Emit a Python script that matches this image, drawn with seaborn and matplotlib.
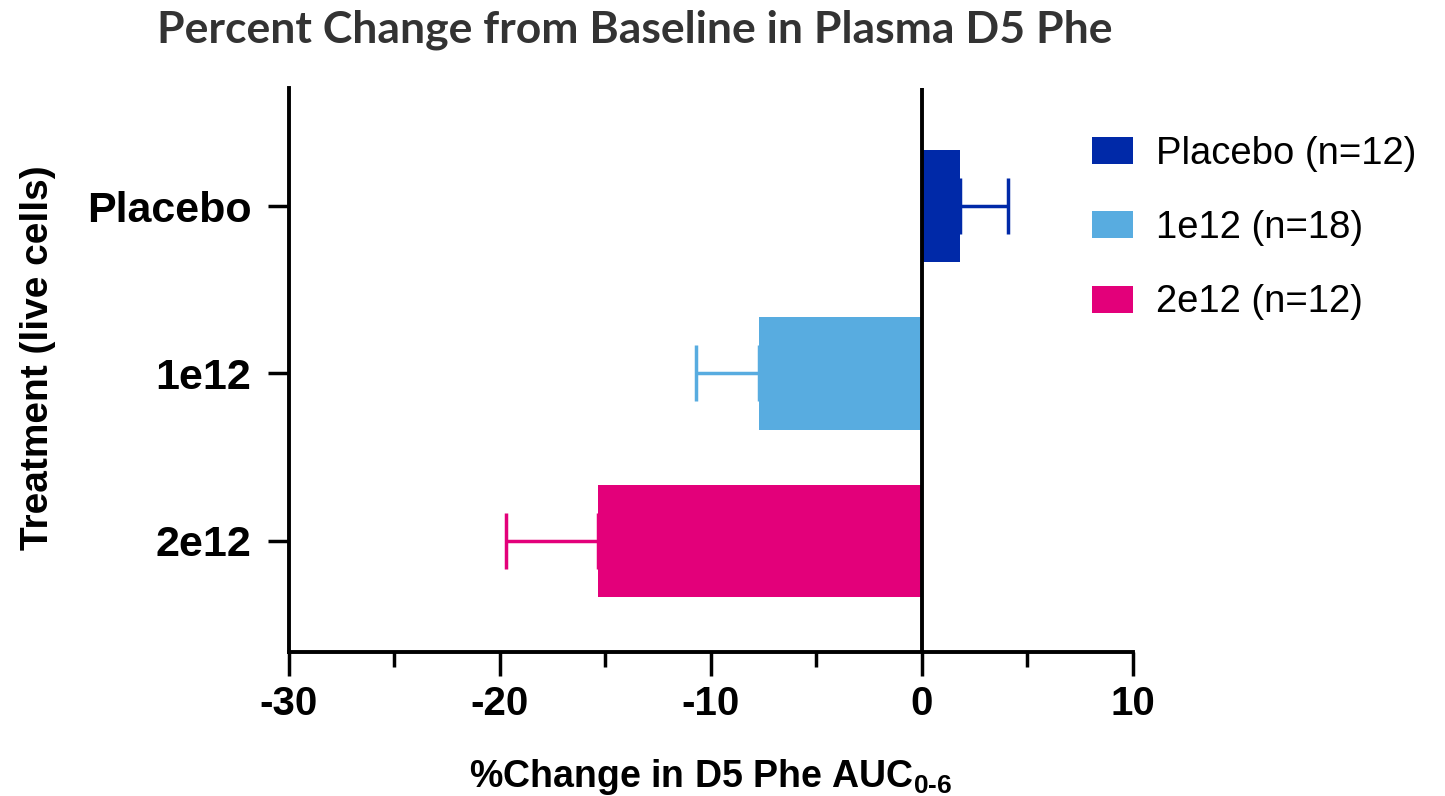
import matplotlib
matplotlib.use("Agg")
import matplotlib.pyplot as plt
import seaborn as sns
import pandas as pd
from matplotlib.patches import Patch
from matplotlib.ticker import MultipleLocator

# data
treatments = ["Placebo", "1e12", "2e12"]
legend_labels = ["Placebo (n=12)", "1e12 (n=18)", "2e12 (n=12)"]
pct_change = [1.8, -7.7, -15.35]
sem = [2.3, 3.0, 4.35]
colors = ["#0029A8", "#58ACE0", "#E3007A"]

df = pd.DataFrame({"Treatment": treatments, "Change": pct_change})

sns.set_theme(style="white")
plt.rcParams["font.family"] = ["Liberation Sans", "DejaVu Sans"]
plt.rcParams["axes.unicode_minus"] = False
plt.rcParams["mathtext.fontset"] = "custom"
plt.rcParams["mathtext.rm"] = "Liberation Sans:bold"
plt.rcParams["mathtext.bf"] = "Liberation Sans:bold"

fig = plt.figure(figsize=(14.45, 7.96), dpi=100)
ax = fig.add_axes([0.2, 0.181, 0.584, 0.708])

sns.barplot(data=df, x="Change", y="Treatment", hue="Treatment",
            palette=colors, orient="h", width=0.67, dodge=False,
            errorbar=None, legend=False, saturation=1, ax=ax)
for p in ax.patches:
    p.set_edgecolor("none")
    p.set_zorder(2)

# one-sided error bars pointing away from zero
for i, (v, e, c) in enumerate(zip(pct_change, sem, colors)):
    lo = e if v < 0 else 0
    hi = e if v >= 0 else 0
    ax.errorbar(v, i, xerr=[[lo], [hi]], fmt="none", ecolor=c,
                elinewidth=2.5, capsize=20, capthick=2.5, zorder=1)

ax.axvline(0, color="black", lw=2.8, zorder=5)

ax.set_xlim(-30, 10)
ax.set_ylim(2.665, -0.705)
ax.xaxis.set_major_locator(MultipleLocator(10))
ax.xaxis.set_minor_locator(MultipleLocator(5))

sns.despine(ax=ax)
for s in ["left", "bottom"]:
    ax.spines[s].set_color("black")
    ax.spines[s].set_linewidth(2.8)

ax.tick_params(axis="x", which="major", direction="out", length=17, width=2.5,
               color="black", labelsize=29, pad=7, bottom=True)
ax.tick_params(axis="x", which="minor", direction="out", length=11, width=2.5,
               color="black", bottom=True)
ax.tick_params(axis="y", direction="out", length=15, width=2.5,
               color="black", labelsize=31, pad=12, left=True)
for lab in ax.get_xticklabels() + ax.get_yticklabels():
    lab.set_fontweight("bold")
    lab.set_color("black")

ax.set_xlabel(r"%Change in D5 Phe AUC$_{\mathbf{0\text{-}6}}$", fontsize=27,
              fontweight="bold", color="black", labelpad=24)
ax.set_ylabel("")
fig.text(0.026, 0.551, "Treatment (live cells)", rotation=90, ha="center",
         va="center", fontsize=28, fontweight="bold", color="black")

fig.text(0.439, 0.963, "Percent Change from Baseline in Plasma D5 Phe",
         ha="center", va="center", fontsize=32, fontweight="bold",
         color="#333333", family=["Lato", "DejaVu Sans"])

handles = [Patch(facecolor=c, edgecolor="none", label=l)
           for c, l in zip(colors, legend_labels)]
fig.legend(handles=handles, loc="upper left",
           bbox_to_anchor=(1092 / 1445, 1 - 136 / 796), frameon=False,
           fontsize=27.5, handlelength=1.08, handleheight=0.71,
           handletextpad=0.6, labelspacing=1.0, borderpad=0,
           borderaxespad=0, labelcolor="black")

fig.savefig("out.png", dpi=100)
plt.close(fig)
